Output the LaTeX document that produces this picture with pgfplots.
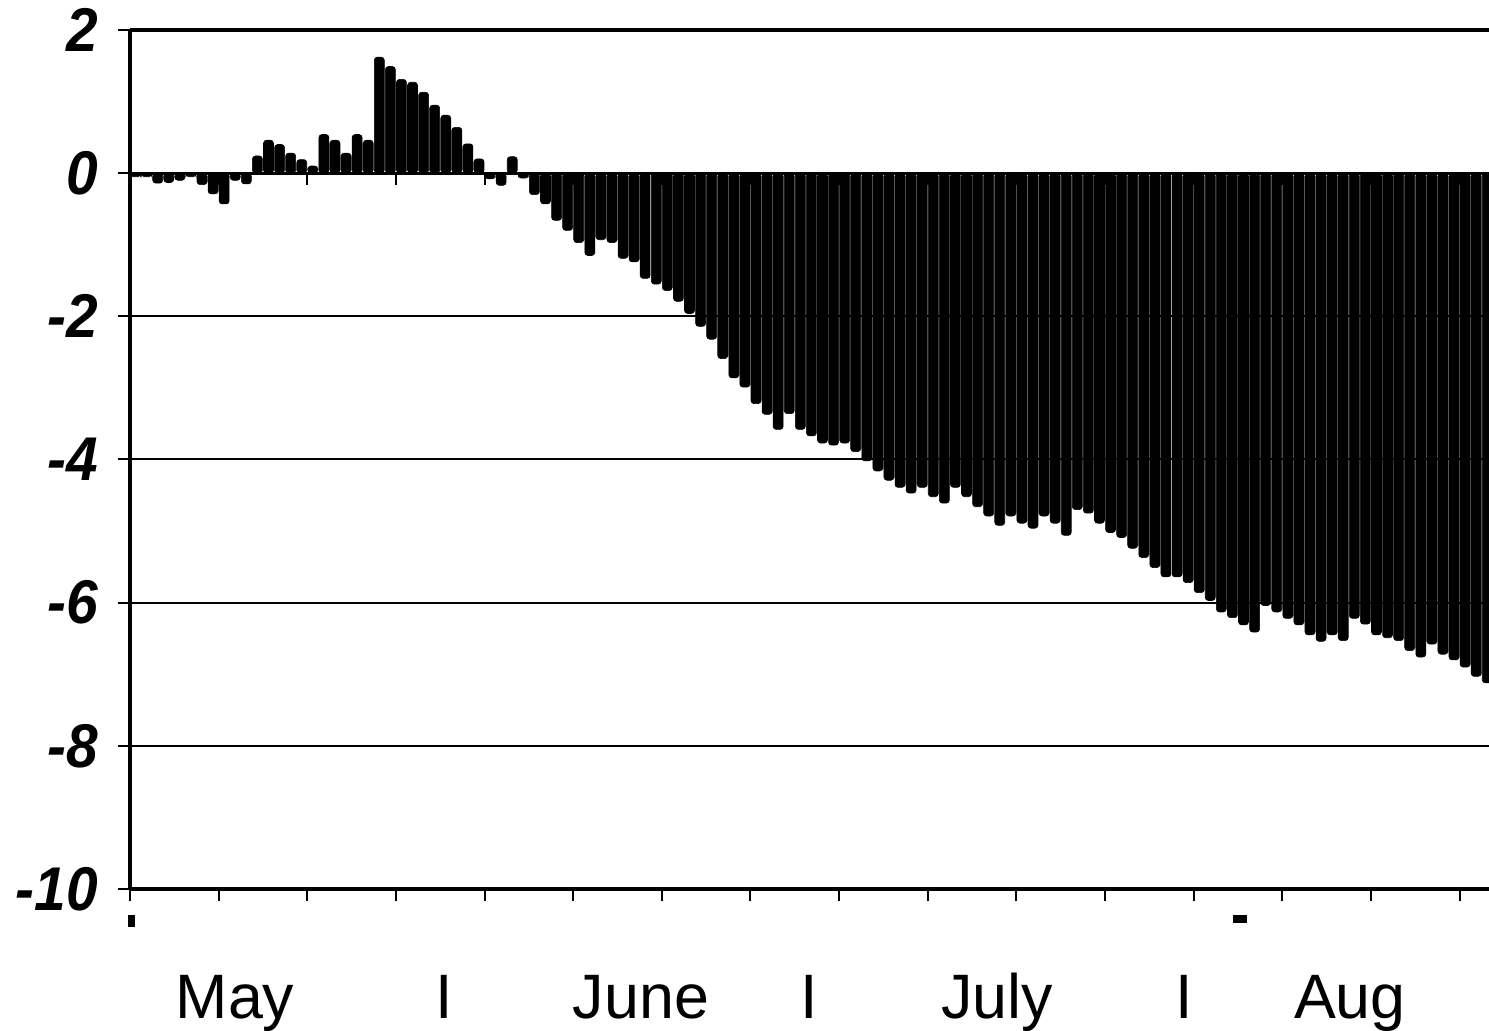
\documentclass[border=0pt]{standalone}
\usepackage{fontspec}
\setmainfont{Liberation Sans}
\usepackage{pgfplots}
\usepackage{pgfplotstable}
\pgfplotsset{compat=1.18}
\usetikzlibrary{calc}
\tikzset{month/.style={anchor=base, inner sep=0pt, yshift=-64.5bp, font=\fontsize{31.5}{31.5}\selectfont}}

\pgfplotstableread{
i v
0 -0.05
1 -0.05
2 -0.14
3 -0.13
4 -0.10
5 -0.05
6 -0.16
7 -0.29
8 -0.43
9 -0.10
10 -0.15
11 0.24
12 0.46
13 0.40
14 0.28
15 0.19
16 0.10
17 0.54
18 0.46
19 0.28
20 0.54
21 0.46
22 1.62
23 1.49
24 1.31
25 1.27
26 1.13
27 0.95
28 0.81
29 0.64
30 0.41
31 0.20
32 -0.08
33 -0.17
34 0.23
35 -0.07
36 -0.30
37 -0.43
38 -0.66
39 -0.80
40 -0.97
41 -1.15
42 -0.93
43 -0.97
44 -1.19
45 -1.24
46 -1.47
47 -1.55
48 -1.64
49 -1.79
50 -1.96
51 -2.14
52 -2.32
53 -2.59
54 -2.86
55 -2.99
56 -3.22
57 -3.37
58 -3.58
59 -3.36
60 -3.58
61 -3.67
62 -3.77
63 -3.80
64 -3.77
65 -3.89
66 -4.02
67 -4.16
68 -4.29
69 -4.39
70 -4.47
71 -4.39
72 -4.52
73 -4.61
74 -4.39
75 -4.52
76 -4.66
77 -4.79
78 -4.92
79 -4.79
80 -4.89
81 -4.96
82 -4.79
83 -4.89
84 -5.06
85 -4.70
86 -4.75
87 -4.89
88 -5.02
89 -5.09
90 -5.24
91 -5.37
92 -5.51
93 -5.64
94 -5.64
95 -5.72
96 -5.86
97 -5.97
98 -6.13
99 -6.21
100 -6.31
101 -6.41
102 -6.04
103 -6.13
104 -6.22
105 -6.31
106 -6.45
107 -6.54
108 -6.45
109 -6.53
110 -6.22
111 -6.30
112 -6.45
113 -6.49
114 -6.53
115 -6.67
116 -6.76
117 -6.58
118 -6.72
119 -6.80
120 -6.90
121 -7.03
122 -7.12
}\datatable

\begin{document}
\begin{tikzpicture}
\begin{axis}[name=ax,
  scale only axis, width=681.4bp, height=429.5bp,
  xmin=-0.5, xmax=122.5, ymin=-10, ymax=2,
  axis x line*=bottom, axis y line*=left,
  axis line style={line width=2bp, black},
  xtick={-0.5,7.5,...,119.5}, xticklabels={},
  ytick={-10,-8,...,2},
  ymajorgrids, grid style={line width=1bp, black},
  tick style={black, line width=1bp},
  tick align=outside, major tick length=6bp,
  yticklabel style={font=\fontsize{31}{31}\selectfont\bfseries\itshape, inner xsep=0pt, xshift=-10bp, xscale=0.92},
  /pgf/number format/assume math mode=true,
  clip=false,
  ybar, bar width=0.9,
]
\addplot[fill=black, draw=black, line width=0.3bp, rounded corners=1.5bp] table[x=i,y=v]{\datatable};
\draw[line width=1.5bp] (axis cs:-0.5,0) -- (axis cs:122.5,0);
\draw[line width=1.6bp] (axis cs:-0.5,2) -- (axis cs:122.5,2);
\node[month] at (axis cs:8.98,-10) {May};
\node[month] at (axis cs:27.84,-10) {I};
\node[month] at (axis cs:45.62,-10) {June};
\node[month] at (axis cs:60.78,-10) {I};
\node[month] at (axis cs:77.75,-10) {July};
\node[month] at (axis cs:94.63,-10) {I};
\node[month] at (axis cs:109.6,-10) {Aug};
\end{axis}
\begin{axis}[at={(ax.south west)}, anchor=south west,
  scale only axis, width=681.4bp, height=429.5bp,
  xmin=-0.5, xmax=122.5, ymin=-10, ymax=2,
  axis x line*=middle, axis y line=none,
  x axis line style={draw=none},
  xtick={-0.5,7.5,...,119.5}, xticklabels={},
  ytick=\empty,
  tick style={black, line width=1bp},
  xtick align=outside, major tick length=6bp,
  clip=false,
]
\end{axis}
\fill ($(ax.south west)+(-1bp,-13bp)$) rectangle ++(3.5bp,-6bp);
\fill ($(ax.south west)+(551.5bp,-13bp)$) rectangle ++(7bp,-4bp);
\pgfresetboundingbox
\path[use as bounding box] ($(ax.south west)+(-65bp,-71bp)$) rectangle ($(ax.north west)+(679.5bp,15bp)$);
\end{tikzpicture}
\end{document}
